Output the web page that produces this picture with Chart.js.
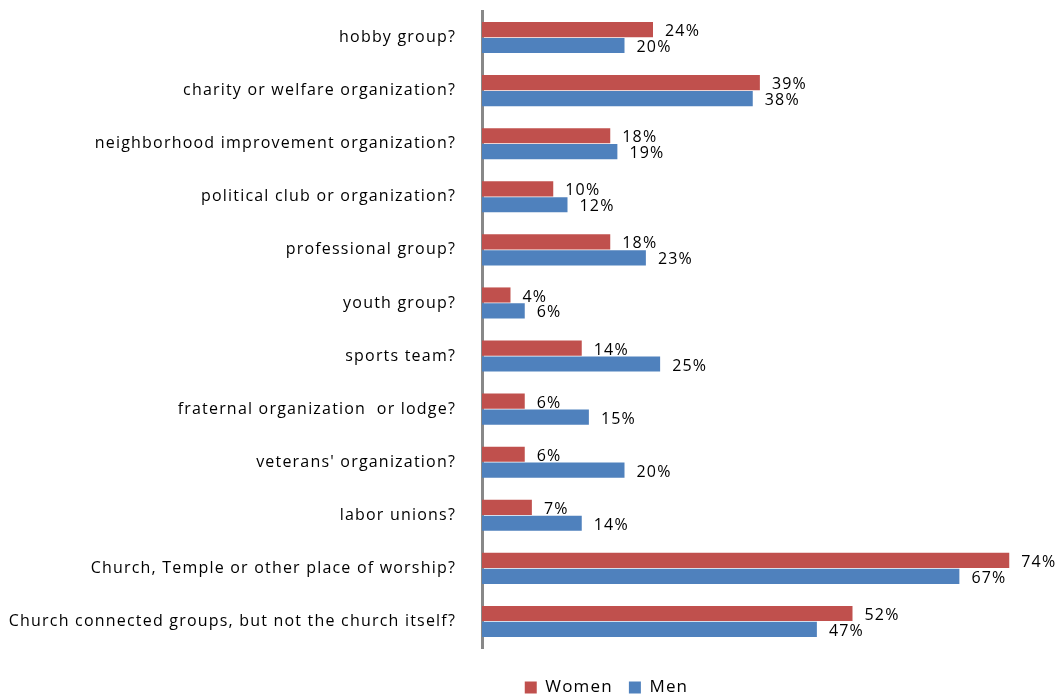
<!DOCTYPE html>
<html>
<head>
<meta charset="utf-8">
<script src="https://cdn.jsdelivr.net/npm/chart.js@4"></script>
<style>
  html, body { margin: 0; padding: 0; background: #fff; }
  #wrap { width: 1060px; height: 698px; }
</style>
</head>
<body>
<div id="wrap"><canvas id="groupsChart"></canvas></div>
<script>
const categories = [
  "hobby group?",
  "charity or welfare organization?",
  "neighborhood improvement organization?",
  "political club or organization?",
  "professional group?",
  "youth group?",
  "sports team?",
  "fraternal organization  or lodge?",
  "veterans' organization?",
  "labor unions?",
  "Church, Temple or other place of worship?",
  "Church connected groups, but not the church itself?"
];
const women = [24, 39, 18, 10, 18, 4, 14, 6, 6, 7, 74, 52];
const men = [20, 38, 19, 12, 23, 6, 25, 15, 20, 14, 67, 47];

const fontFamily = "'Open Sans', sans-serif";
const spacing = "1.2px";

// the original text is set wide, so put letter spacing on the canvas
const wideText = {
  id: "wideText",
  beforeLayout(chart) { chart.ctx.letterSpacing = spacing; },
  beforeDraw(chart) { chart.ctx.letterSpacing = spacing; }
};

// legend sits right of the page centre and lower down in the original
const legendShift = {
  id: "legendShift",
  afterLayout(chart) {
    const lg = chart.legend;
    lg.left += 77;
    lg.right += 77;
    lg.top += 15;
    lg.bottom += 15;
  }
};

// draws the "NN%" text just past the end of each bar
const valueLabels = {
  id: "valueLabels",
  afterDatasetsDraw(chart) {
    const ctx = chart.ctx;
    ctx.save();
    ctx.font = "16px " + fontFamily;
    ctx.letterSpacing = spacing;
    ctx.fillStyle = "#000";
    ctx.textBaseline = "middle";
    ctx.textAlign = "left";
    chart.data.datasets.forEach((ds, i) => {
      chart.getDatasetMeta(i).data.forEach((bar, j) => {
        ctx.fillText(ds.data[j] + "%", bar.x + 12, bar.y + 2);
      });
    });
    ctx.restore();
  }
};

const config = {
  type: "bar",
  data: {
    labels: categories,
    datasets: [
      {
        label: "Women",
        data: women,
        backgroundColor: "#C0504D",
        borderWidth: 0,
        categoryPercentage: 0.6,
        barPercentage: 0.95
      },
      {
        label: "Men",
        data: men,
        backgroundColor: "#4F81BD",
        borderWidth: 0,
        categoryPercentage: 0.6,
        barPercentage: 0.95
      }
    ]
  },
  options: {
    indexAxis: "y",
    responsive: true,
    maintainAspectRatio: false,
    animation: false,
    layout: { padding: { top: 11, right: 8, left: 7, bottom: 7 } },
    scales: {
      x: {
        min: 0,
        max: 80,
        display: false
      },
      y: {
        grid: { display: false, drawTicks: false },
        border: { display: true, color: "#888888", width: 3 },
        ticks: {
          color: "#000",
          padding: 26,
          font: { family: fontFamily, size: 16 }
        },
        afterFit(scale) {
          // fixed axis column width; tick padding must not push the plot down
          scale.width = 475;
          scale.paddingTop = 0;
          scale.paddingBottom = 0;
        }
      }
    },
    plugins: {
      legend: {
        position: "bottom",
        labels: {
          color: "#000",
          boxWidth: 12,
          boxHeight: 12,
          padding: 16,
          font: { family: fontFamily, size: 17 }
        }
      },
      tooltip: { enabled: false }
    }
  },
  plugins: [wideText, legendShift, valueLabels]
};

const myChart = new Chart(document.getElementById("groupsChart"), config);
</script>
</body>
</html>
